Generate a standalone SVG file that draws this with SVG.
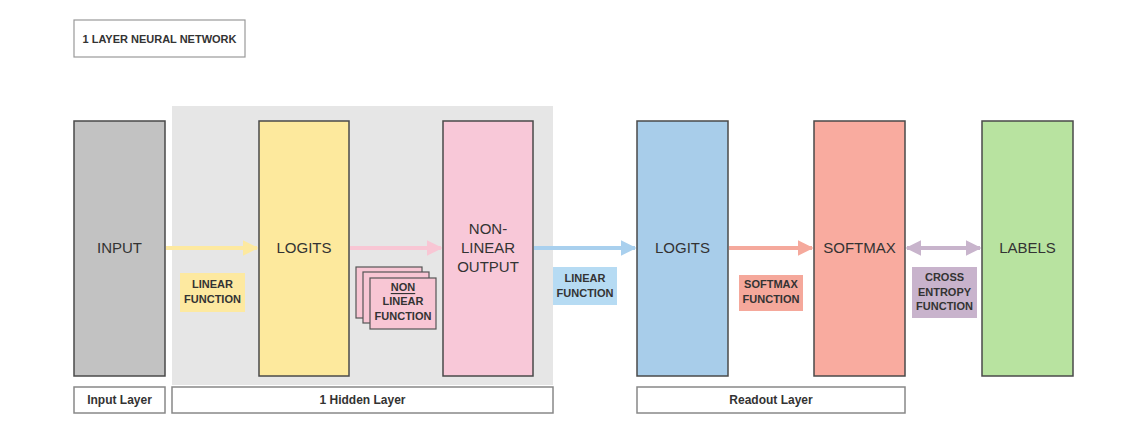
<svg xmlns="http://www.w3.org/2000/svg" width="1122" height="444" viewBox="0 0 1122 444">
<style>
text{font-family:"Liberation Sans",Arial,sans-serif;fill:#333;text-anchor:middle;dominant-baseline:central}
.node{stroke:#4a4a4a;stroke-width:1.5}
.big{font-size:15px}
.sm{font-size:11px;font-weight:bold}
.lay{font-size:12px;font-weight:bold}
.layer{fill:#fff;stroke:#888;stroke-width:1.5}
.conn{stroke-width:4;fill:none}
</style>
<defs>
<marker id="ay" viewBox="0 0 10 10" refX="9" refY="5" markerWidth="4" markerHeight="4" orient="auto"><path d="M0,0L10,5L0,10z" fill="#fde9a0"/></marker>
<marker id="ap" viewBox="0 0 10 10" refX="9" refY="5" markerWidth="4" markerHeight="4" orient="auto"><path d="M0,0L10,5L0,10z" fill="#f8c6d4"/></marker>
<marker id="ab" viewBox="0 0 10 10" refX="9" refY="5" markerWidth="4" markerHeight="4" orient="auto"><path d="M0,0L10,5L0,10z" fill="#a9d0ee"/></marker>
<marker id="as" viewBox="0 0 10 10" refX="9" refY="5" markerWidth="4" markerHeight="4" orient="auto"><path d="M0,0L10,5L0,10z" fill="#f5a99c"/></marker>
<marker id="au" viewBox="0 0 10 10" refX="9" refY="5" markerWidth="4" markerHeight="4" orient="auto-start-reverse"><path d="M0,0L10,5L0,10z" fill="#c8b4cc"/></marker>
</defs>
<rect width="1122" height="444" fill="#fff"/>
<g id="title"><rect x="74" y="20" width="171" height="37" fill="#fff" stroke="#999" stroke-width="1.2"/><text x="159.5" y="38.5" style="font-size:11px;font-weight:bold">1 LAYER NEURAL NETWORK</text></g>
<g id="hidden-region"><rect x="172" y="106" width="381" height="279" fill="#e6e6e6"/></g>
<g id="connectors">
<line class="conn" x1="166" y1="248" x2="257" y2="248" stroke="#fde9a0" marker-end="url(#ay)"/>
<line class="conn" x1="350" y1="248" x2="441" y2="248" stroke="#f8c6d4" marker-end="url(#ap)"/>
<line class="conn" x1="534" y1="248" x2="635" y2="248" stroke="#a9d0ee" marker-end="url(#ab)"/>
<line class="conn" x1="729" y1="248" x2="812" y2="248" stroke="#f5a99c" marker-end="url(#as)"/>
<line class="conn" x1="907" y1="248" x2="980" y2="248" stroke="#c8b4cc" marker-start="url(#au)" marker-end="url(#au)"/>
</g>
<g id="input"><rect class="node" x="74" y="121" width="91" height="255" fill="#c2c2c2"/><text class="big" x="119.5" y="247">INPUT</text></g>
<g id="logits1"><rect class="node" x="259" y="121" width="90" height="255" fill="#fde99d"/><text class="big" x="304" y="247">LOGITS</text></g>
<g id="nonlinear-output"><rect class="node" x="443" y="121" width="90" height="255" fill="#f8c8d8"/><text class="big" x="488" y="228">NON-</text><text class="big" x="488" y="247">LINEAR</text><text class="big" x="488" y="266">OUTPUT</text></g>
<g id="logits2"><rect class="node" x="637" y="121" width="91" height="255" fill="#a8cdea"/><text class="big" x="682.5" y="247">LOGITS</text></g>
<g id="softmax"><rect class="node" x="814" y="121" width="91" height="255" fill="#f9ab9f"/><text class="big" x="859.5" y="247">SOFTMAX</text></g>
<g id="labels"><rect class="node" x="982" y="121" width="91" height="255" fill="#b8e3a0"/><text class="big" x="1027.5" y="247">LABELS</text></g>
<g id="linear-function-1"><rect x="180" y="273" width="65" height="39" fill="#fde9a0"/><text class="sm" x="212.5" y="284">LINEAR</text><text class="sm" x="212.5" y="299">FUNCTION</text></g>
<g id="nonlinear-function">
<rect x="356" y="267" width="66" height="51" fill="#f8c6d4" stroke="#555" stroke-width="1.2"/>
<rect x="363" y="272" width="66" height="51" fill="#f8c6d4" stroke="#555" stroke-width="1.2"/>
<rect x="370" y="278" width="66" height="51" fill="#f8c6d4" stroke="#555" stroke-width="1.2"/>
<text class="sm" x="403" y="287" text-decoration="underline">NON</text>
<text class="sm" x="403" y="301">LINEAR</text><text class="sm" x="403" y="316">FUNCTION</text></g>
<g id="linear-function-2"><rect x="553" y="267" width="64" height="38" fill="#b6dbf3"/><text class="sm" x="585" y="277.5">LINEAR</text><text class="sm" x="585" y="292.5">FUNCTION</text></g>
<g id="softmax-function"><rect x="739" y="275" width="64" height="36" fill="#f5a89b"/><text class="sm" x="771" y="284">SOFTMAX</text><text class="sm" x="771" y="299">FUNCTION</text></g>
<g id="cross-entropy-function"><rect x="912" y="267" width="65" height="51" fill="#c8b3cc"/><text class="sm" x="944.5" y="277">CROSS</text><text class="sm" x="944.5" y="291.5">ENTROPY</text><text class="sm" x="944.5" y="306">FUNCTION</text></g>
<g id="input-layer"><rect class="layer" x="74" y="387" width="91" height="26"/><text class="lay" x="119.5" y="400">Input Layer</text></g>
<g id="hidden-layer"><rect class="layer" x="172" y="387" width="381" height="26"/><text class="lay" x="362.5" y="400">1 Hidden Layer</text></g>
<g id="readout-layer"><rect class="layer" x="637" y="387" width="268" height="26"/><text class="lay" x="771" y="400">Readout Layer</text></g>
</svg>
